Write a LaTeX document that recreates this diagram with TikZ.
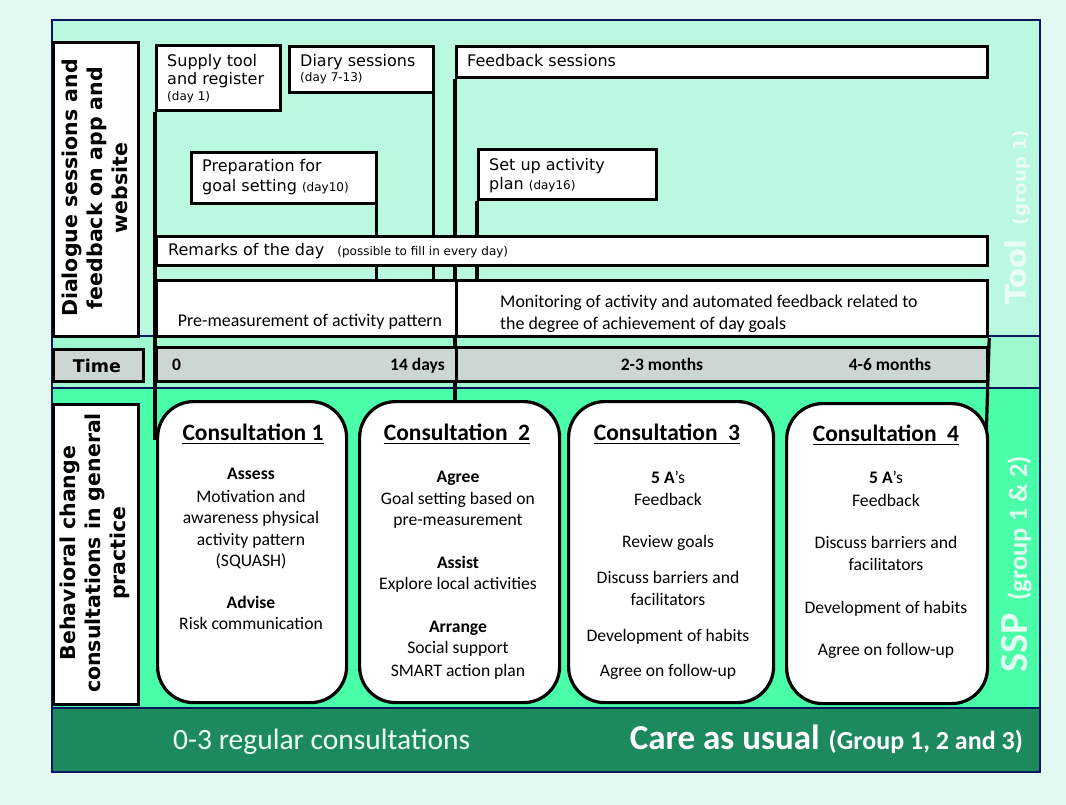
\documentclass[tikz,border=0pt]{standalone}
\usepackage{fontspec}
\setmainfont{Carlito}
\newfontfamily\vfont{DejaVu Sans}
\usetikzlibrary{shadows}
\definecolor{outerbg}{RGB}{227,248,240}
\definecolor{toolbg}{RGB}{186,249,223}
\definecolor{timebg}{RGB}{158,248,206}
\definecolor{sspbg}{RGB}{74,253,168}
\definecolor{caubg}{RGB}{29,138,94}
\definecolor{navy}{RGB}{10,25,95}
\definecolor{tgray}{RGB}{204,214,211}
\definecolor{tooltxt}{RGB}{234,254,246}
\definecolor{ssptxt}{RGB}{224,255,240}
\definecolor{cautxt}{RGB}{236,255,246}
\pgfdeclarelayer{bg}
\pgfdeclarelayer{lines}
\pgfsetlayers{bg,lines,main}
\begin{document}
\begin{tikzpicture}[x=1pt,y=-1pt,
  tbox/.style={draw=black, line width=3.2pt, fill=white, inner sep=0pt, anchor=north west,
     drop shadow={shadow xshift=1.2pt, shadow yshift=-1.6pt, opacity=0.25}},
  lbox/.style={draw=black, line width=3.2pt, fill=white, inner sep=0pt, anchor=north west},
  cbox/.style={draw=black, line width=3.2pt, fill=white, inner sep=0pt, anchor=north west, rounded corners=36pt},
  conn/.style={draw=black, line width=3.2pt},
  vt/.style={inner sep=0pt, anchor=base west, font=\vfont\fontsize{16}{18}\selectfont},
  vs/.style={inner sep=0pt, anchor=base west, font=\vfont\fontsize{12}{14}\selectfont},
  ct/.style={inner sep=0pt, font=\fontsize{17.9}{21}\selectfont},
  tt/.style={inner sep=0pt, font=\bfseries\fontsize{17.5}{21}\selectfont},
  lab/.style={rotate=90, align=center, inner sep=0pt, font=\vfont\bfseries\fontsize{20.5}{25}\selectfont},
  chead/.style={inner sep=0pt, anchor=base, font=\bfseries\fontsize{23.5}{26}\selectfont},
  cbody/.style={inner sep=0pt, anchor=base, font=\fontsize{17.6}{20}\selectfont},
  uline/.style={line width=1.4pt}]
\useasboundingbox (0,0) rectangle (1066,805);
\begin{pgfonlayer}{bg}
\fill[outerbg] (0,0) rectangle (1066,805);
\fill[toolbg] (52,20) rectangle (1040,336);
\fill[timebg] (52,336) rectangle (1040,388);
\fill[sspbg] (52,388) rectangle (1040,708);
\fill[caubg] (52,708) rectangle (1040,772);
\draw[navy, line width=2.4pt] (52,20) rectangle (1040,772);
\draw[navy, line width=2.4pt] (52,336) -- (1040,336);
\draw[navy, line width=2.4pt] (52,388) -- (1040,388);
\draw[navy, line width=2.4pt] (52,708) -- (1040,708);
\end{pgfonlayer}

% left labels
\node[lbox, minimum width=85pt, minimum height=294pt] (dlab) at (52,41) {};
\node[lab] (dlabT) at (95,188) {Dialogue sessions and\\feedback on app and\\website};
\node[lbox, fill=tgray, minimum width=90pt, minimum height=32pt] (tlab) at (52,348) {};
\node[inner sep=0pt, anchor=base, font=\vfont\bfseries\fontsize{17.5}{20}\selectfont] (tlabT) at (97,372) {Time};
\node[lbox, minimum width=85pt, minimum height=300pt] (blab) at (52,403) {};
\node[lab] (blabT) at (95,553) {Behavioral change\\consultations in general\\practice};

% timeline boxes
\node[tbox, minimum width=124pt, minimum height=65pt] (supply) at (155,44) {};
\node[tbox, minimum width=144pt, minimum height=46pt] (diary) at (288,45) {};
\node[tbox, minimum width=531pt, minimum height=31pt] (feedback) at (455,45) {};
\node[tbox, minimum width=185pt, minimum height=51pt] (prep) at (190,151) {};
\node[tbox, minimum width=178pt, minimum height=50pt] (setup) at (477,148) {};
\node[tbox, minimum width=831pt, minimum height=29pt] (remarks) at (155,235) {};
\node[tbox, minimum width=300pt, minimum height=56pt] (pre) at (155,279) {};
\node[tbox, minimum width=531pt, minimum height=56pt] (monitor) at (455,279) {};
\node[tbox, fill=tgray, minimum width=300pt, minimum height=34pt] (tbar1) at (155,346) {};
\node[tbox, fill=tgray, minimum width=531pt, minimum height=34pt] (tbar2) at (455,346) {};

% consultation boxes
\node[cbox, minimum width=189pt, minimum height=301pt] (c1) at (156,400) {};
\node[cbox, minimum width=200pt, minimum height=301pt] (c2) at (358,400) {};
\node[cbox, minimum width=205pt, minimum height=301pt] (c3) at (567,400) {};
\node[cbox, minimum width=201pt, minimum height=300pt] (c4) at (785,402) {};

\coordinate (l1end) at (155,440);
\coordinate (r1end) at (986,442);

% connectors
\begin{pgfonlayer}{lines}
\draw[conn] (supply.south west) -- (l1end);
\draw[conn] ([xshift=-2pt]diary.south east) -- ([xshift=-2pt]diary.south east |- pre.north);
\draw[conn] ([xshift=-2pt]prep.south east) -- ([xshift=-2pt]prep.south east |- pre.north);
\draw[conn] (feedback.south west) -- (feedback.south west |- c2.north);
\draw[conn] (setup.south west) -- (setup.south west |- monitor.north);
\draw[conn] (monitor.south east) -- (r1end);
\end{pgfonlayer}

% box texts
\node[vt] (supplyT1) at (167,67) {Supply tool};
\node[vt] (supplyT2) at (167,85) {and register};
\node[vs] (supplyT3) at (167,101) {(day 1)};
\node[vt] (diaryT1) at (300,67) {Diary sessions};
\node[vs] (diaryT2) at (300,82) {(day 7-13)};
\node[vt] (feedbackT) at (467,67) {Feedback sessions};
\node[vt] (prepT1) at (202,172) {Preparation for};
\node[vt] (prepT2) at (202,192) {goal setting {\fontsize{12}{14}\selectfont(day10)}};
\node[vt] (setupT1) at (489,171) {Set up activity};
\node[vt] (setupT2) at (489,190) {plan {\fontsize{12}{14}\selectfont(day16)}};
\node[vt] (remarksT) at (168,255) {Remarks of the day\hspace{13pt}{\fontsize{12}{14}\selectfont(possible to fill in every day)}};
\node[ct, anchor=base] (preT) at (310,326) {Pre-measurement of activity pattern};
\node[ct, anchor=base west] (monT1) at (500,307) {Monitoring of activity and automated feedback related to};
\node[ct, anchor=base west] (monT2) at (500,329) {the degree of achievement of day goals};

% time labels
\node[tt, anchor=base west] (t0) at (172,370) {0};
\node[tt, anchor=base east] (t14) at (445,370) {14 days};
\node[tt, anchor=base] (t23) at (662,370) {2-3 months};
\node[tt, anchor=base] (t46) at (890,370) {4-6 months};

% group labels
\node[rotate=90, anchor=base west, inner sep=0pt, text=tooltxt, font=\vfont\bfseries] (toolT) at (1026,305)
  {{\fontsize{29}{32}\selectfont Tool}\hspace{14pt}{\fontsize{18}{22}\selectfont(group 1)}};
\node[rotate=90, anchor=base west, inner sep=0pt, text=ssptxt, font=\bfseries] (sspT) at (1027,673)
  {{\fontsize{40}{44}\selectfont SSP}\hspace{13pt}{\fontsize{26.5}{30}\selectfont(group 1 \& 2)}};
\node[anchor=base west, inner sep=0pt, text=cautxt, font=\fontsize{29.5}{32}\selectfont] (regT) at (173,749) {0-3 regular consultations};
\node[anchor=base east, inner sep=0pt, text=white, font=\bfseries] (cauT) at (1023,749)
  {{\fontsize{35}{38}\selectfont Care as usual}\hspace{9pt}{\fontsize{26}{30}\selectfont(Group 1, 2 and 3)}};

% consultation headings
\node[chead] (c1h) at (253,440) {Consultation 1};
\node[chead] (c2h) at (457,440) {Consultation\hspace{0.45em}2};
\node[chead] (c3h) at (667,440) {Consultation\hspace{0.45em}3};
\node[chead] (c4h) at (886,441) {Consultation\hspace{0.45em}4};
\foreach \h in {c1h,c2h,c3h,c4h}
  \draw[uline] ([yshift=-3.5pt]\h.base west) -- ([yshift=-3.5pt]\h.base east);

% consultation bodies
\foreach \y/\t [count=\i] in {479/{\bfseries Assess}, 502/{Motivation and}, 523/{awareness physical},
  545/{activity pattern}, 566/{(SQUASH)}, 608/{\bfseries Advise}, 629/{Risk communication}}
  \node[cbody] (c1t\i) at (251,\y) {\t};
\foreach \y/\t [count=\i] in {482/{\bfseries Agree}, 504/{Goal setting based on}, 525/{pre-measurement},
  568/{\bfseries Assist}, 589/{Explore local activities}, 632/{\bfseries Arrange}, 653/{Social support},
  676/{SMART action plan}}
  \node[cbody] (c2t\i) at (458,\y) {\t};
\foreach \y/\t [count=\i] in {483/{{\bfseries 5 A}’s}, 505/{Feedback}, 547/{Review goals},
  583/{Discuss barriers and}, 605/{facilitators}, 641/{Development of habits}, 676/{Agree on follow-up}}
  \node[cbody] (c3t\i) at (668,\y) {\t};
\foreach \y/\t [count=\i] in {483/{{\bfseries 5 A}’s}, 506/{Feedback}, 548/{Discuss barriers and},
  570/{facilitators}, 613/{Development of habits}, 655/{Agree on follow-up}}
  \node[cbody] (c4t\i) at (886,\y) {\t};
\end{tikzpicture}
\end{document}
